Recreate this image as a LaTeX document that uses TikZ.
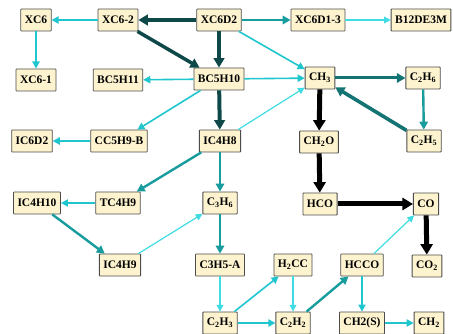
\documentclass[tikz,border=0pt]{standalone}
\usepackage{fontspec}
\setmainfont{Liberation Serif}
\usetikzlibrary{arrows.meta}
\definecolor{boxfill}{HTML}{FDF3CF}
\definecolor{lightcyan}{HTML}{3FDCE4}
\definecolor{fluxcyan}{HTML}{20C6CE}
\definecolor{fluxteal}{HTML}{189C9E}
\definecolor{deepteal}{HTML}{147474}
\definecolor{darkteal}{HTML}{0E4848}

\begin{document}
\begin{tikzpicture}[x=1pt,y=-1pt,
    species/.style={draw=black!70,fill=boxfill,line width=.8pt,rounded corners=.6pt,
      minimum height=22pt,inner xsep=4pt,inner ysep=0pt,
      font=\bfseries\fontsize{11.5}{12}\selectfont},
    flux/.style={-{Triangle[length=5.5pt 1,width=5pt 1.4]},line width=#1},
    thinflux/.style={flux=1.2pt,lightcyan},
    cyanflux/.style={flux=1.6pt,fluxcyan},
    tealflux/.style={flux=2.4pt,fluxteal},
    deepflux/.style={flux=3pt,deepteal},
    darkflux/.style={flux=4pt,darkteal},
    mainflux/.style={flux=5pt,black}]
  \useasboundingbox (0,0) rectangle (453,334);
  % species
  \foreach \n/\x/\y/\t in {xc6/36/20/XC6, xc62/118/20/XC6-2, xc6d2/219/20/XC6D2,
      xc6d13/318/20/XC6D1-3, b12de3m/421/20/B12DE3M,
      xc61/36/80/XC6-1, bc5h11/118/80/BC5H11, bc5h10/219/79/BC5H10,
      ch3/320/78/{CH\textsubscript{3}}, c2h6/423/78/{C\textsubscript{2}H\textsubscript{6}},
      ic6d2/32/141/IC6D2, cc5h9b/119/141/CC5H9-B, ic4h8/220/141/IC4H8,
      ch2o/319/142/{CH\textsubscript{2}O}, c2h5/424/141/{C\textsubscript{2}H\textsubscript{5}},
      ic4h10/37/203/IC4H10, tc4h9/118/203/TC4H9, c3h6/220/203/{C\textsubscript{3}H\textsubscript{6}},
      hco/320/204/HCO, co/426/204/CO,
      ic4h9/120/265/IC4H9, c3h5a/220/265/C3H5-A, h2cc/293/265/{H\textsubscript{2}CC},
      hcco/362/265/HCCO, co2/427/266/{CO\textsubscript{2}},
      c2h3/220/323/{C\textsubscript{2}H\textsubscript{3}}, c2h2/293/323/{C\textsubscript{2}H\textsubscript{2}},
      ch2s/362/323/CH2(S), ch2/429/323/{CH\textsubscript{2}}}
    \node[species] (\n) at (\x,\y) {\t};
  % fluxes
  \foreach \a/\b in {xc6d13/b12de3m, ic4h8/ch3, ic4h9/c3h6, c3h5a/c2h3, hcco/co, h2cc/c2h2}
    \draw[thinflux] (\a) -- (\b);
  \foreach \a/\b in {xc62/xc6, xc6/xc61, xc6d2/ch3, bc5h10/bc5h11, bc5h10/ch3,
      bc5h10/cc5h9b, cc5h9b/ic6d2, tc4h9/ic4h10, c2h3/h2cc, c2h3/c2h2, hcco/ch2s, ch2s/ch2}
    \draw[cyanflux] (\a) -- (\b);
  \foreach \a/\b in {xc6d2/xc6d13, ic4h8/tc4h9, ic4h8/c3h6, ic4h10/ic4h9,
      c3h6/c3h5a, c2h2/hcco, c2h6/c2h5}
    \draw[tealflux] (\a) -- (\b);
  \draw[deepflux] (ch3) -- (c2h6);
  \draw[deepflux,line width=3.6pt] (c2h5) -- (ch3);
  \draw[darkflux,line width=3.5pt] (xc62) -- (bc5h10);
  \foreach \a/\b in {xc6d2/xc62, xc6d2/bc5h10, bc5h10/ic4h8}
    \draw[darkflux] (\a) -- (\b);
  \foreach \a/\b in {ch3/ch2o, ch2o/hco, hco/co, co/co2}
    \draw[mainflux] (\a) -- (\b);
\end{tikzpicture}
\end{document}
